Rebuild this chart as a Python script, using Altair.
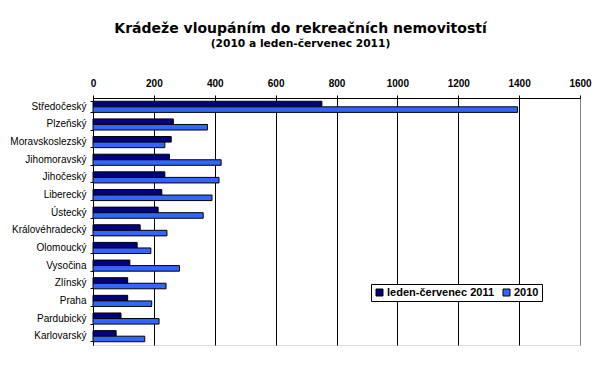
import altair as alt
import pandas as pd

regions = ["Středočeský", "Plzeňský", "Moravskoslezský", "Jihomoravský", "Jihočeský",
           "Liberecký", "Ústecký", "Královéhradecký", "Olomoucký", "Vysočina",
           "Zlínský", "Praha", "Pardubický", "Karlovarský"]
v2011 = [752, 264, 257, 251, 236, 226, 214, 155, 145, 121, 114, 114, 92, 76]
v2010 = [1395, 376, 236, 421, 414, 391, 362, 243, 190, 284, 240, 193, 217, 170]
series = ["leden-červenec 2011", "2010"]
colors = ["#000080", "#3366FF"]

rows = []
for r, a, b in zip(regions, v2011, v2010):
    rows.append({"kraj": r, "serie": series[0], "pocet": a})
    rows.append({"kraj": r, "serie": series[1], "pocet": b})
df = pd.DataFrame(rows)

FONT = "Liberation Sans"

chart = alt.Chart(df).mark_bar(stroke="black", strokeWidth=1).encode(
    x=alt.X("pocet:Q",
            scale=alt.Scale(domain=[0, 1600], nice=False, zero=True),
            axis=alt.Axis(orient="top", values=list(range(0, 1601, 200)), title=None,
                          format="d",
                          labelFont=FONT, labelFontSize=10, labelFontWeight="bold",
                          labelColor="black", labelPadding=7, tickSize=3,
                          tickColor="black", domainColor="black",
                          grid=True,
                          gridColor=alt.condition("datum.value == 1600", alt.value("#808080"), alt.value("black")),
                          gridOpacity=1, gridWidth=1, labelFlush=False)),
    y=alt.Y("kraj:N", sort=regions,
            scale=alt.Scale(paddingInner=0.37, paddingOuter=0.185),
            axis=alt.Axis(title=None, labelFont=FONT, labelFontSize=10, labelColor="black",
                          tickSize=3, tickColor="black", domainColor="black",
                          bandPosition=1, tickExtra=True,
                          labelPadding=4, grid=False)),
    yOffset=alt.YOffset("serie:N", sort=series, scale=alt.Scale(paddingInner=0, paddingOuter=0)),
    color=alt.Color("serie:N", sort=series,
                    scale=alt.Scale(domain=series, range=colors),
                    legend=alt.Legend(title=None, orient="none", legendX=278, legendY=186,
                                      direction="horizontal", columns=2, strokeColor="black",
                                      fillColor="white", padding=3,
                                      symbolType="square", symbolSize=49,
                                      symbolStrokeColor="black", symbolStrokeWidth=1,
                                      symbolOpacity=1,
                                      labelFont=FONT, labelFontSize=11, labelFontWeight="bold",
                                      labelColor="black", labelOffset=2, columnPadding=6,
                                      symbolOffset=0)),
).properties(
    width=487,
    height=247,
    autosize=alt.AutoSizeParams(type="none"),
    padding={"left": 85, "top": 90, "right": 17, "bottom": 23},
    title=alt.TitleParams(
        text="Krádeže vloupáním do rekreačních nemovitostí",
        subtitle="(2010 a leden-červenec 2011)",
        font="DejaVu Sans", fontSize=14, fontWeight="bold", color="black",
        subtitleFont="DejaVu Sans", subtitleFontSize=10.7, subtitleFontWeight="bold",
        subtitleColor="black", subtitlePadding=3,
        anchor="middle", dx=-36, offset=29,
    ),
).configure_view(
    stroke="#808080", strokeWidth=1
).configure(background="white")

chart.save("out.html", embed_options={"renderer": "svg", "actions": False})
